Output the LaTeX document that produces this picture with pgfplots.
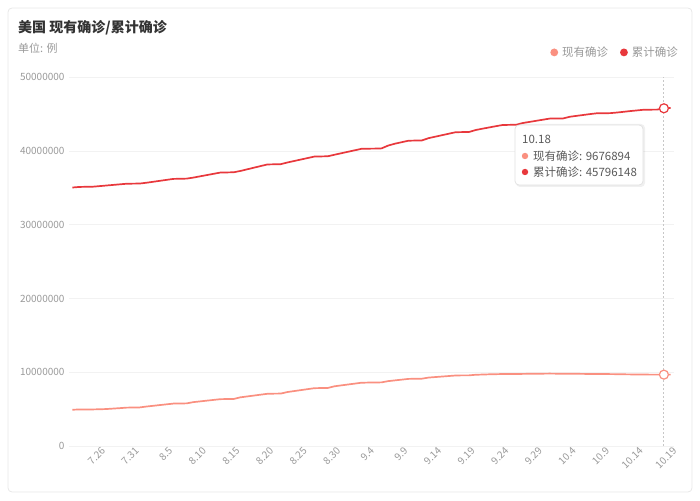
\documentclass[border=0pt]{standalone}
\usepackage{fontspec}
\setmainfont{Noto Sans CJK SC}
\usepackage{pgfplots}
\usepackage{pgfplotstable}
\pgfplotsset{compat=1.18}
\definecolor{totred}{HTML}{E8383C}
\definecolor{curred}{HTML}{FA9080}
\definecolor{gridc}{HTML}{F2F2F2}
\definecolor{ticktxt}{HTML}{9A9A9A}
\definecolor{titletxt}{HTML}{333333}
\definecolor{tiptxt}{HTML}{5A5A5A}
\definecolor{cardline}{HTML}{E8E8E8}

% day index 0 = 7.22, tot = 累计确诊, cur = 现有确诊
\pgfplotstableread{
d tot cur
0 35050000 4920000
1 35130000 4950000
2 35150000 4960000
3 35160000 4960000
4 35240000 4980000
5 35320000 5010000
6 35400000 5070000
7 35480000 5130000
8 35560000 5200000
9 35580000 5220000
10 35590000 5230000
11 35700000 5350000
12 35830000 5450000
13 35960000 5550000
14 36090000 5650000
15 36220000 5750000
16 36240000 5770000
17 36260000 5780000
18 36400000 5950000
19 36570000 6050000
20 36740000 6150000
21 36910000 6250000
22 37080000 6350000
23 37100000 6370000
24 37120000 6380000
25 37300000 6600000
26 37520000 6720000
27 37740000 6840000
28 37960000 6960000
29 38180000 7080000
30 38200000 7100000
31 38220000 7110000
32 38450000 7320000
33 38650000 7450000
34 38850000 7580000
35 39050000 7710000
36 39250000 7840000
37 39270000 7860000
38 39290000 7870000
39 39500000 8100000
40 39700000 8220000
41 39900000 8340000
42 40100000 8460000
43 40300000 8580000
44 40320000 8600000
45 40330000 8610000
46 40360000 8630000
47 40750000 8800000
48 41000000 8900000
49 41200000 9000000
50 41400000 9100000
51 41420000 9120000
52 41440000 9130000
53 41750000 9280000
54 41950000 9350000
55 42150000 9420000
56 42350000 9490000
57 42550000 9560000
58 42570000 9580000
59 42580000 9580000
60 42850000 9660000
61 43030000 9690000
62 43200000 9720000
63 43370000 9740000
64 43530000 9760000
65 43550000 9760000
66 43560000 9760000
67 43800000 9780000
68 43950000 9790000
69 44100000 9800000
70 44250000 9810000
71 44400000 9820000
72 44410000 9810000
73 44420000 9810000
74 44650000 9800000
75 44770000 9790000
76 44890000 9780000
77 45010000 9770000
78 45120000 9760000
79 45130000 9760000
80 45140000 9750000
81 45220000 9740000
82 45320000 9720000
83 45420000 9710000
84 45510000 9700000
85 45600000 9690000
86 45610000 9680000
87 45620000 9680000
88 45796148 9676894
89 45830000 9680000
}\usdata

\begin{document}
\begin{tikzpicture}
% page = 700x500, axis box lower left at image (69,446)
\path[use as bounding box] (-69pt,-54pt) rectangle (631pt,446pt);
\draw[cardline, fill=white, rounded corners=4pt, line width=0.8pt] (-61pt,-46pt) rectangle (623pt,438pt);
\node[anchor=west, inner sep=0pt, text=titletxt, font=\fontsize{14}{16}\selectfont\bfseries] at (-51pt,418pt) {美国 现有确诊/累计确诊};
\node[anchor=west, inner sep=0pt, text=ticktxt, font=\fontsize{11}{13}\selectfont] at (-51pt,398pt) {单位: 例};

\begin{axis}[
    scale only axis,
    width=605pt, height=368.7pt,
    xmin=-0.5, xmax=89.5,
    ymin=0, ymax=50000000,
    xtick={4,9,...,89},
    xticklabels={7.26,7.31,8.5,8.10,8.15,8.20,8.25,8.30,9.4,9.9,9.14,9.19,9.24,9.29,10.4,10.9,10.14,10.19},
    ytick={0,10000000,20000000,30000000,40000000,50000000},
    scaled y ticks=false,
    ymajorgrids,
    grid style={gridc, line width=0.7pt},
    axis line style={draw=none},
    tick style={draw=none},
    major tick length=0pt,
    tick label style={text=ticktxt, font=\fontsize{10}{12}\selectfont},
    yticklabel style={/pgf/number format/fixed, /pgf/number format/1000 sep={}, /pgf/number format/assume math mode=true, anchor=east, xshift=-1pt},
    xticklabel style={rotate=45, anchor=east, yshift=-5pt, xshift=2pt, inner sep=1pt},
    legend columns=2,
    legend style={draw=none, fill=none, at={(1.0149,1.0675)}, anchor=east,
        font=\fontsize{11.5}{13}\selectfont, text=ticktxt,
        /tikz/every even column/.append style={column sep=10pt}},
    legend image code/.code={\fill[#1] (3pt,0pt) circle (3pt); \path (0pt,0pt) (8pt,0pt);},
    clip=false,
]
\addplot[forget plot, color=black!22, line width=0.9pt, dash pattern=on 2pt off 2pt] coordinates {(88,0) (88,50000000)};
\addplot[color=curred, line width=1.7pt] table[x=d, y=cur] {\usdata};
\addlegendentry{现有确诊}
\addplot[color=totred, line width=1.7pt] table[x=d, y=tot] {\usdata};
\addlegendentry{累计确诊}
\addplot[forget plot, only marks, mark=*, mark size=4.5pt, mark options={draw=curred, fill=white, line width=1.2pt}] coordinates {(88,9676894)};
\addplot[forget plot, only marks, mark=*, mark size=4.5pt, mark options={draw=totred, fill=white, line width=1.2pt}] coordinates {(88,45796148)};
\end{axis}

% tooltip
\fill[black, opacity=0.06, rounded corners=4pt] (447pt,259pt) rectangle (576pt,322pt);
\draw[black!12, fill=white, rounded corners=4pt, line width=0.7pt] (446pt,261pt) rectangle (574pt,321pt);
\node[anchor=west, inner sep=0pt, text=tiptxt, font=\fontsize{11.5}{14}\selectfont] at (453pt,307pt) {10.18};
\fill[curred] (456pt,290pt) circle (3.2pt);
\node[anchor=west, inner sep=0pt, text=tiptxt, font=\fontsize{11.5}{14}\selectfont] at (464pt,290pt) {现有确诊: 9676894};
\fill[totred] (456pt,274pt) circle (3.2pt);
\node[anchor=west, inner sep=0pt, text=tiptxt, font=\fontsize{11.5}{14}\selectfont] at (464pt,274pt) {累计确诊: 45796148};
\end{tikzpicture}
\end{document}
